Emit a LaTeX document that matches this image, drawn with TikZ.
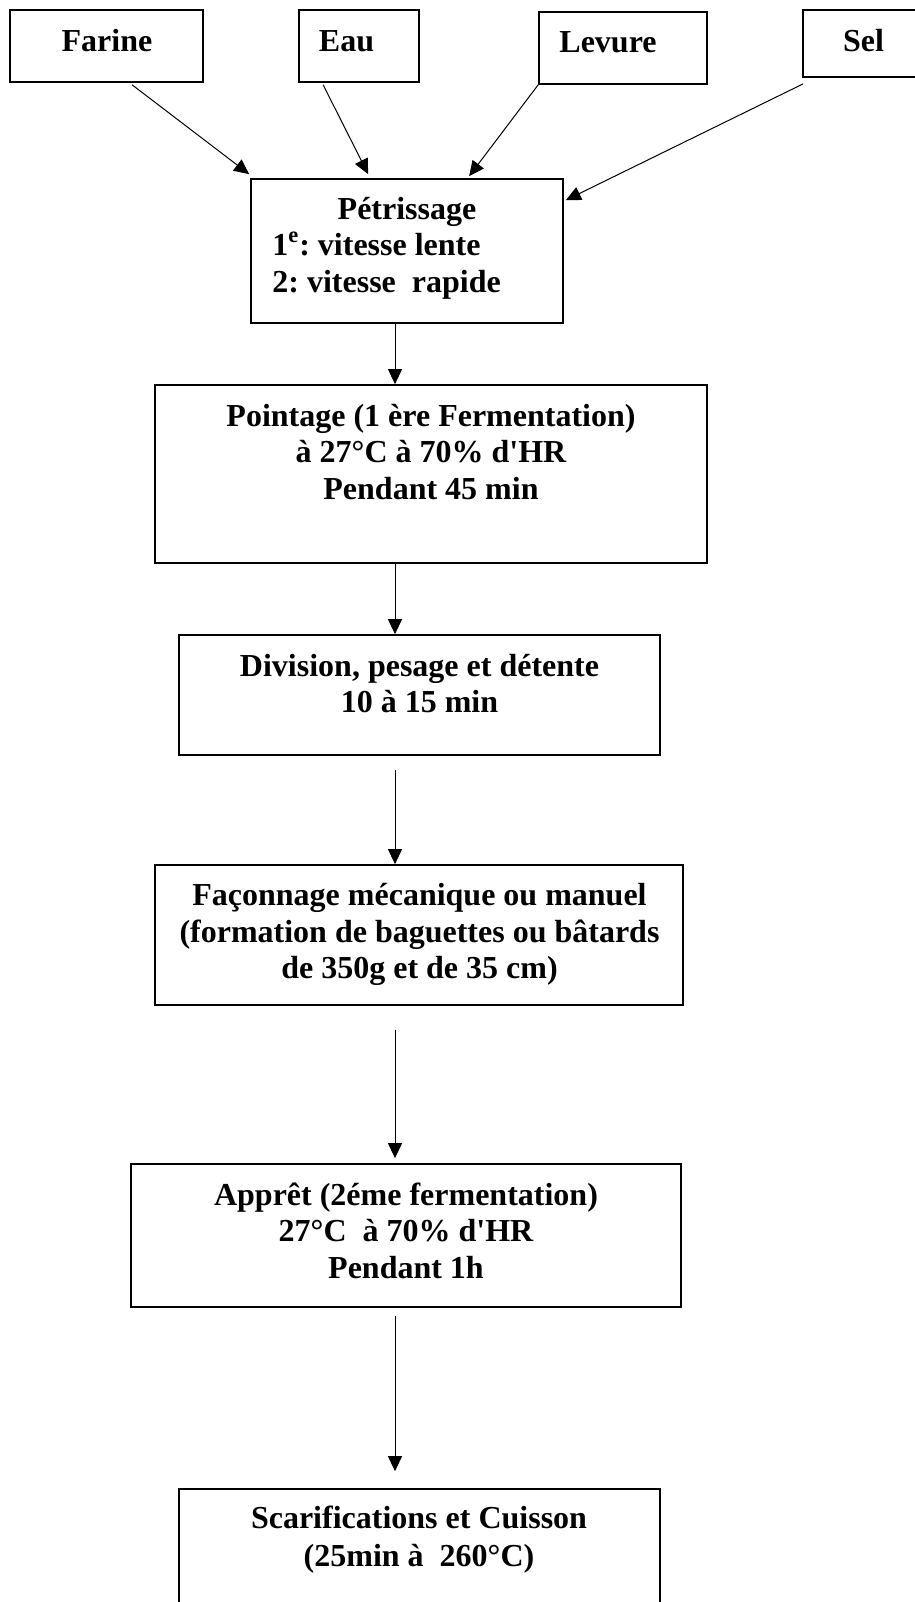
\documentclass[tikz,border=0pt]{standalone}
\usepackage{fontspec}
\setmainfont{Liberation Serif}[Ligatures=TeXOff]
\frenchspacing
\usetikzlibrary{fit,calc,arrows.meta}
\begin{document}
\begin{tikzpicture}[x=0.5pt,y=-0.5pt,
  box/.style={draw, line width=0.85pt, inner sep=0pt},
  txt/.style={anchor=base, inner sep=0pt, font=\fontsize{16pt}{18pt}\selectfont\bfseries},
  txtl/.style={txt, anchor=base west},
  arr/.style={line width=0.5pt, -{Triangle[length=7.5pt,width=7pt]}}]
\useasboundingbox (0,0) rectangle (915,1602);
\fill[white] (0,0) rectangle (915,1602);
\coordinate (spine) at (395,0);
% input boxes
\node[box, fit={(10,10) (203,82)}] (far) {};
\node[txt] (farT) at (107,51) {Farine};
\node[box, fit={(299,10) (419,82)}] (eau) {};
\node[txt] (eauT) at (346.5,51.5) {Eau};
\node[box, fit={(539,12) (707,84)}] (lev) {};
\node[txt] (levT) at (608,52.5) {Levure};
\node[box, fit={(803,10) (945,77)}] (sel) {};
\node[txt] (selT) at (863.5,51) {Sel};
% Petrissage
\node[box, fit={(251,179) (563,323)}] (pet) {};
\node[txt] (petA) at (407,219) {Pétrissage};
\node[txtl] (petB) at (272,255.5) {1\textsuperscript{e}: vitesse lente};
\node[txtl] (petC) at (272,292.5) {2: vitesse\ \ rapide};
% Pointage
\node[box, fit={(155,385) (707,563)}] (poi) {};
\node[txt] (poiA) at (431,426) {Pointage (1 ère Fermentation)};
\node[txt] (poiB) at (431,462.5) {à 27°C à 70\% d'HR};
\node[txt] (poiC) at (431,499) {Pendant 45 min};
% Division
\node[box, fit={(179,635) (660,755)}] (div) {};
\node[txt] (divA) at (419.5,676) {Division, pesage et détente};
\node[txt] (divB) at (419.5,712.5) {10 à 15 min};
% Faconnage
\node[box, fit={(155,865) (683,1005)}] (fac) {};
\node[txt] (facA) at (419.5,905.5) {Façonnage mécanique ou manuel};
\node[txt] (facB) at (419.5,942) {(formation de baguettes ou bâtards};
\node[txt] (facC) at (419.5,978.5) {de 350g et de 35 cm)};
% Appret
\node[box, fit={(131,1164) (681,1307)}] (app) {};
\node[txt] (appA) at (406,1205) {Apprêt (2éme fermentation)};
\node[txt] (appB) at (406,1241.5) {27°C\ \ à 70\% d'HR};
\node[txt] (appC) at (406,1278) {Pendant 1h};
% Scarifications
\node[box, fit={(179,1489) (660,1625)}] (sca) {};
\node[txt] (scaA) at (419,1528) {Scarifications et Cuisson};
\node[txt] (scaB) at (419,1566) {(25min à\ \ 260°C)};
% connectors
\draw[arr] ($(far.south west)+(123,2)$) -- ($(pet.north west)+(-1,-4)$);
\draw[arr] ($(eau.south west)+(25,2)$) -- ($(pet.north west)+(118,-4)$);
\draw[arr] (lev.south west) -- ($(pet.north west)+(219,-2)$);
\draw[arr] ($(sel.south west)+(1,6)$) -- ($(pet.north east)+(2,22)$);
\draw[arr] (pet.south -| spine) -- (poi.north -| spine);
\draw[arr] (poi.south -| spine) -- (div.north -| spine);
\draw[arr] ($(div.south -| spine)+(0,14)$) -- (fac.north -| spine);
\draw[arr] ($(fac.south -| spine)+(0,24)$) -- ($(app.north -| spine)+(0,-5)$);
\draw[arr] ($(app.south -| spine)+(0,8)$) -- ($(sca.north -| spine)+(0,-17)$);
\end{tikzpicture}
\end{document}
